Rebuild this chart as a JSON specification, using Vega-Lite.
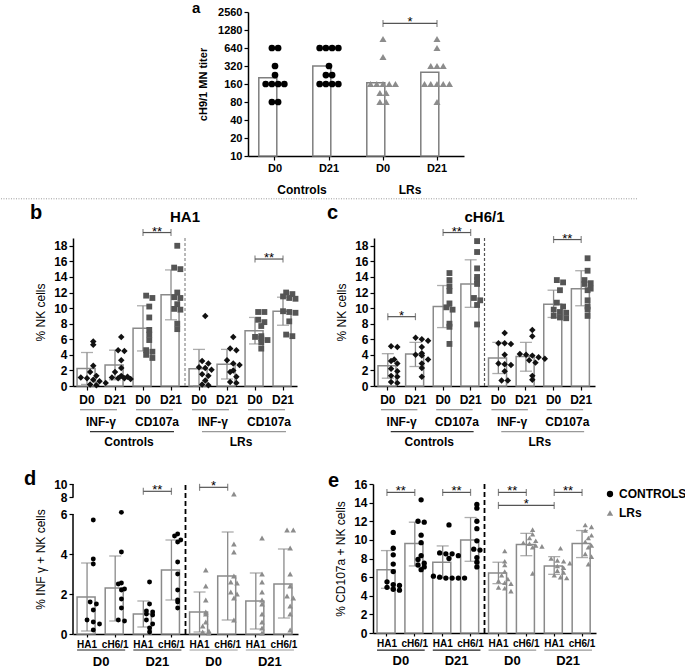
{
"$schema":"https://vega.github.io/schema/vega-lite/v6.json",
"padding":{"left":0,"top":0,"right":0,"bottom":0},
"spacing":0,
"resolve":{"scale":{"color":"independent","shape":"independent","stroke":"independent"},"legend":{"color":"independent","shape":"independent","stroke":"independent"}},
"config":{"view":{"stroke":null},"font":"Liberation Sans",
 "axis":{"grid":false,"labelOverlap":false,"domainColor":"#000","domainWidth":1.5,"tickColor":"#000","tickWidth":1.2,"labelColor":"#000","titleColor":"#000","labelFontWeight":"bold","labelFont":"Liberation Sans","titleFont":"Liberation Sans"},
 "text":{"font":"Liberation Sans","color":"#000"}},
"datasets":{
 "aBar":[{"k":"1|D0","v":204},{"k":"2|D21","v":320},{"k":"3|D0","v":168},{"k":"4|D21","v":252}],
 "aPts":[{"k":"1|D0","v":640},{"k":"1|D0","v":640},{"k":"1|D0","v":320},{"k":"1|D0","v":226},{"k":"1|D0","v":160},{"k":"1|D0","v":160},{"k":"1|D0","v":160},{"k":"1|D0","v":160},{"k":"1|D0","v":80},{"k":"1|D0","v":80},
  {"k":"2|D21","v":640},{"k":"2|D21","v":640},{"k":"2|D21","v":640},{"k":"2|D21","v":640},{"k":"2|D21","v":320},{"k":"2|D21","v":226},{"k":"2|D21","v":226},{"k":"2|D21","v":160},{"k":"2|D21","v":160},{"k":"2|D21","v":160},{"k":"2|D21","v":160},
  {"k":"3|D0","v":905},{"k":"3|D0","v":453},{"k":"3|D0","v":160},{"k":"3|D0","v":160},{"k":"3|D0","v":160},{"k":"3|D0","v":160},{"k":"3|D0","v":160},{"k":"3|D0","v":113},{"k":"3|D0","v":113},{"k":"3|D0","v":80},{"k":"3|D0","v":80},
  {"k":"4|D21","v":905},{"k":"4|D21","v":640},{"k":"4|D21","v":320},{"k":"4|D21","v":320},{"k":"4|D21","v":320},{"k":"4|D21","v":160},{"k":"4|D21","v":160},{"k":"4|D21","v":160},{"k":"4|D21","v":160},{"k":"4|D21","v":160},{"k":"4|D21","v":80}],
 "aBr":[{"f":"3|D0","t":"4|D21","y":1650,"s":"*"}],
 "bBar":[{"k":"1|D0","m":2.25,"lo":0.2,"hi":4.3},{"k":"2|D21","m":2.7,"lo":0.8,"hi":4.6},{"k":"3|D0","m":7.4,"lo":4.5,"hi":10.3},{"k":"4|D21","m":11.7,"lo":8.5,"hi":14.9},{"k":"5|D0","m":2.2,"lo":0,"hi":4.7},{"k":"6|D21","m":2.8,"lo":0.9,"hi":4.7},{"k":"7|D0","m":7.1,"lo":5.4,"hi":8.8},{"k":"8|D21","m":9.6,"lo":7.8,"hi":11.4}],
 "bPts":[{"k":"1|D0","v":5.7},{"k":"1|D0","v":5.3},{"k":"1|D0","v":2.6},{"k":"1|D0","v":1.8},{"k":"1|D0","v":1.3},{"k":"1|D0","v":1.1},{"k":"1|D0","v":1.0},{"k":"1|D0","v":0.8},{"k":"1|D0","v":0.6},{"k":"1|D0","v":0.4},{"k":"1|D0","v":0.2},{"k":"1|D0","v":0.1},
  {"k":"2|D21","v":6.3},{"k":"2|D21","v":4.6},{"k":"2|D21","v":4.5},{"k":"2|D21","v":3.3},{"k":"2|D21","v":2.3},{"k":"2|D21","v":1.8},{"k":"2|D21","v":1.3},{"k":"2|D21","v":1.2},{"k":"2|D21","v":1.1},{"k":"2|D21","v":1.0},{"k":"2|D21","v":1.0},{"k":"2|D21","v":0.9},
  {"k":"3|D0","v":11.6},{"k":"3|D0","v":11.3},{"k":"3|D0","v":10.2},{"k":"3|D0","v":8.8},{"k":"3|D0","v":7.2},{"k":"3|D0","v":6.6},{"k":"3|D0","v":5.9},{"k":"3|D0","v":4.6},{"k":"3|D0","v":4.4},{"k":"3|D0","v":4.0},{"k":"3|D0","v":3.6},
  {"k":"4|D21","v":18.0},{"k":"4|D21","v":15.2},{"k":"4|D21","v":15.0},{"k":"4|D21","v":12.0},{"k":"4|D21","v":11.4},{"k":"4|D21","v":11.3},{"k":"4|D21","v":10.5},{"k":"4|D21","v":9.9},{"k":"4|D21","v":9.8},{"k":"4|D21","v":8.0},{"k":"4|D21","v":7.3},
  {"k":"5|D0","v":9.0},{"k":"5|D0","v":3.2},{"k":"5|D0","v":2.9},{"k":"5|D0","v":2.4},{"k":"5|D0","v":2.3},{"k":"5|D0","v":2.1},{"k":"5|D0","v":1.5},{"k":"5|D0","v":1.3},{"k":"5|D0","v":0.7},{"k":"5|D0","v":0.2},{"k":"5|D0","v":0.1},
  {"k":"6|D21","v":6.3},{"k":"6|D21","v":4.8},{"k":"6|D21","v":4.6},{"k":"6|D21","v":3.3},{"k":"6|D21","v":2.9},{"k":"6|D21","v":2.7},{"k":"6|D21","v":2.0},{"k":"6|D21","v":1.8},{"k":"6|D21","v":1.2},{"k":"6|D21","v":0.5},{"k":"6|D21","v":0.4},
  {"k":"7|D0","v":9.5},{"k":"7|D0","v":9.5},{"k":"7|D0","v":8.5},{"k":"7|D0","v":8.2},{"k":"7|D0","v":7.7},{"k":"7|D0","v":6.4},{"k":"7|D0","v":6.3},{"k":"7|D0","v":6.1},{"k":"7|D0","v":5.9},{"k":"7|D0","v":5.6},{"k":"7|D0","v":4.8},
  {"k":"8|D21","v":12.0},{"k":"8|D21","v":11.8},{"k":"8|D21","v":11.5},{"k":"8|D21","v":11.3},{"k":"8|D21","v":11.2},{"k":"8|D21","v":9.6},{"k":"8|D21","v":9.5},{"k":"8|D21","v":9.4},{"k":"8|D21","v":8.3},{"k":"8|D21","v":6.6},{"k":"8|D21","v":6.4}],
 "bBr":[{"f":"3|D0","t":"4|D21","y":19.7,"s":"**"},{"f":"7|D0","t":"8|D21","y":16.3,"s":"**"}],
 "cBar":[{"k":"1|D0","m":2.6,"lo":1.0,"hi":4.15},{"k":"2|D21","m":4.1,"lo":2.5,"hi":5.6},{"k":"3|D0","m":10.2,"lo":7.5,"hi":12.9},{"k":"4|D21","m":13.1,"lo":10.1,"hi":16.2},{"k":"5|D0","m":3.6,"lo":1.6,"hi":5.6},{"k":"6|D21","m":3.8,"lo":1.9,"hi":5.6},{"k":"7|D0","m":10.5,"lo":8.8,"hi":12.3},{"k":"8|D21","m":12.5,"lo":10.3,"hi":14.8}],
 "cPts":[{"k":"1|D0","v":5.1},{"k":"1|D0","v":5.0},{"k":"1|D0","v":3.4},{"k":"1|D0","v":3.2},{"k":"1|D0","v":2.9},{"k":"1|D0","v":2.2},{"k":"1|D0","v":1.9},{"k":"1|D0","v":1.3},{"k":"1|D0","v":1.2},{"k":"1|D0","v":0.5},{"k":"1|D0","v":0.4},
  {"k":"2|D21","v":6.2},{"k":"2|D21","v":6.0},{"k":"2|D21","v":5.8},{"k":"2|D21","v":5.0},{"k":"2|D21","v":4.2},{"k":"2|D21","v":4.0},{"k":"2|D21","v":3.9},{"k":"2|D21","v":3.4},{"k":"2|D21","v":2.9},{"k":"2|D21","v":2.3},{"k":"2|D21","v":1.2},
  {"k":"3|D0","v":14.5},{"k":"3|D0","v":13.6},{"k":"3|D0","v":12.8},{"k":"3|D0","v":12.2},{"k":"3|D0","v":10.6},{"k":"3|D0","v":10.1},{"k":"3|D0","v":9.8},{"k":"3|D0","v":8.0},{"k":"3|D0","v":7.6},{"k":"3|D0","v":5.4},
  {"k":"4|D21","v":18.6},{"k":"4|D21","v":17.2},{"k":"4|D21","v":15.1},{"k":"4|D21","v":14.0},{"k":"4|D21","v":13.6},{"k":"4|D21","v":13.1},{"k":"4|D21","v":11.3},{"k":"4|D21","v":11.0},{"k":"4|D21","v":10.4},{"k":"4|D21","v":7.9},
  {"k":"5|D0","v":6.8},{"k":"5|D0","v":5.5},{"k":"5|D0","v":5.5},{"k":"5|D0","v":5.4},{"k":"5|D0","v":4.0},{"k":"5|D0","v":2.9},{"k":"5|D0","v":2.8},{"k":"5|D0","v":2.7},{"k":"5|D0","v":1.9},{"k":"5|D0","v":0.7},{"k":"5|D0","v":0.7},
  {"k":"6|D21","v":7.2},{"k":"6|D21","v":6.4},{"k":"6|D21","v":4.1},{"k":"6|D21","v":4.0},{"k":"6|D21","v":3.9},{"k":"6|D21","v":3.7},{"k":"6|D21","v":3.5},{"k":"6|D21","v":3.3},{"k":"6|D21","v":3.0},{"k":"6|D21","v":1.3},{"k":"6|D21","v":0.8},
  {"k":"7|D0","v":13.6},{"k":"7|D0","v":13.3},{"k":"7|D0","v":12.3},{"k":"7|D0","v":10.7},{"k":"7|D0","v":10.2},{"k":"7|D0","v":9.8},{"k":"7|D0","v":9.5},{"k":"7|D0","v":9.4},{"k":"7|D0","v":9.0},{"k":"7|D0","v":8.8},{"k":"7|D0","v":8.7},
  {"k":"8|D21","v":16.4},{"k":"8|D21","v":14.8},{"k":"8|D21","v":13.6},{"k":"8|D21","v":13.2},{"k":"8|D21","v":13.1},{"k":"8|D21","v":12.5},{"k":"8|D21","v":12.3},{"k":"8|D21","v":11.0},{"k":"8|D21","v":10.2},{"k":"8|D21","v":9.8},{"k":"8|D21","v":9.0}],
 "cBr":[{"f":"1|D0","t":"2|D21","y":8.9,"s":"*"},{"f":"3|D0","t":"4|D21","y":19.7,"s":"**"},{"f":"7|D0","t":"8|D21","y":18.8,"s":"**"}],
 "lab2":[{"f":"1|D0","t":"2|D21","s":"INF-γ"},{"f":"3|D0","t":"4|D21","s":"CD107a"},{"f":"5|D0","t":"6|D21","s":"INF-γ"},{"f":"7|D0","t":"8|D21","s":"CD107a"}],
 "lab3":[{"f":"1|D0","t":"4|D21","m":"2|D21","s":"Controls","g":"C"},{"f":"5|D0","t":"8|D21","m":"6|D21","s":"LRs","g":"L"}],
 "dBar":[{"k":"1|HA1","m":1.85,"lo":0.15,"hi":3.55},{"k":"2|cH6/1","m":2.3,"lo":0.65,"hi":3.9},{"k":"3|HA1","m":1.0,"lo":0.35,"hi":1.65},{"k":"4|cH6/1","m":3.2,"lo":1.7,"hi":4.7},{"k":"5|HA1","m":1.1,"lo":0.1,"hi":2.1},{"k":"6|cH6/1","m":2.9,"lo":0.7,"hi":5.1},{"k":"7|HA1","m":1.65,"lo":0.25,"hi":3.05},{"k":"8|cH6/1","m":2.5,"lo":0.8,"hi":4.25}],
 "dPts":[{"k":"1|HA1","v":5.7},{"k":"1|HA1","v":3.75},{"k":"1|HA1","v":3.5},{"k":"1|HA1","v":1.6},{"k":"1|HA1","v":1.5},{"k":"1|HA1","v":1.2},{"k":"1|HA1","v":0.7},{"k":"1|HA1","v":0.6},{"k":"1|HA1","v":0.5},{"k":"1|HA1","v":0.2},
  {"k":"2|cH6/1","v":6.2},{"k":"2|cH6/1","v":4.1},{"k":"2|cH6/1","v":2.55},{"k":"2|cH6/1","v":2.5},{"k":"2|cH6/1","v":2.25},{"k":"2|cH6/1","v":2.2},{"k":"2|cH6/1","v":1.75},{"k":"2|cH6/1","v":1.3},{"k":"2|cH6/1","v":0.7},{"k":"2|cH6/1","v":0.65},
  {"k":"3|HA1","v":2.6},{"k":"3|HA1","v":1.5},{"k":"3|HA1","v":1.15},{"k":"3|HA1","v":1.1},{"k":"3|HA1","v":1.0},{"k":"3|HA1","v":0.95},{"k":"3|HA1","v":0.7},{"k":"3|HA1","v":0.5},{"k":"3|HA1","v":0.3},{"k":"3|HA1","v":0.1},
  {"k":"4|cH6/1","v":5.0},{"k":"4|cH6/1","v":4.9},{"k":"4|cH6/1","v":4.7},{"k":"4|cH6/1","v":4.6},{"k":"4|cH6/1","v":3.6},{"k":"4|cH6/1","v":3.0},{"k":"4|cH6/1","v":2.2},{"k":"4|cH6/1","v":1.7},{"k":"4|cH6/1","v":1.6},{"k":"4|cH6/1","v":1.3},
  {"k":"5|HA1","v":3.2},{"k":"5|HA1","v":2.4},{"k":"5|HA1","v":1.7},{"k":"5|HA1","v":1.1},{"k":"5|HA1","v":1.0},{"k":"5|HA1","v":0.6},{"k":"5|HA1","v":0.4},{"k":"5|HA1","v":0.15},{"k":"5|HA1","v":0.1},{"k":"5|HA1","v":0.05},
  {"k":"6|cH6/1","v":8.5},{"k":"6|cH6/1","v":4.5},{"k":"6|cH6/1","v":4.1},{"k":"6|cH6/1","v":2.9},{"k":"6|cH6/1","v":2.6},{"k":"6|cH6/1","v":2.55},{"k":"6|cH6/1","v":2.1},{"k":"6|cH6/1","v":2.0},{"k":"6|cH6/1","v":1.8},{"k":"6|cH6/1","v":0.7},
  {"k":"7|HA1","v":4.8},{"k":"7|HA1","v":3.0},{"k":"7|HA1","v":2.6},{"k":"7|HA1","v":2.1},{"k":"7|HA1","v":1.7},{"k":"7|HA1","v":1.5},{"k":"7|HA1","v":1.0},{"k":"7|HA1","v":0.6},{"k":"7|HA1","v":0.3},{"k":"7|HA1","v":0.05},
  {"k":"8|cH6/1","v":5.2},{"k":"8|cH6/1","v":5.2},{"k":"8|cH6/1","v":4.3},{"k":"8|cH6/1","v":3.0},{"k":"8|cH6/1","v":2.4},{"k":"8|cH6/1","v":1.9},{"k":"8|cH6/1","v":1.8},{"k":"8|cH6/1","v":1.4},{"k":"8|cH6/1","v":1.0},{"k":"8|cH6/1","v":0.2}],
 "dBr":[{"f":"3|HA1","t":"4|cH6/1","y":8.9,"s":"**"},{"f":"5|HA1","t":"6|cH6/1","y":9.5,"s":"*"}],
 "eBar":[{"k":"1|HA1","m":6.8,"lo":4.8,"hi":8.85},{"k":"2|cH6/1","m":9.6,"lo":7.2,"hi":11.9},{"k":"3|HA1","m":7.6,"lo":5.9,"hi":9.35},{"k":"4|cH6/1","m":10.0,"lo":7.7,"hi":12.4},{"k":"5|HA1","m":6.45,"lo":5.3,"hi":7.6},{"k":"6|cH6/1","m":9.5,"lo":8.3,"hi":10.7},{"k":"7|HA1","m":7.2,"lo":6.3,"hi":8.2},{"k":"8|cH6/1","m":9.6,"lo":8.1,"hi":11.0}],
 "ePts":[{"k":"1|HA1","v":10.8},{"k":"1|HA1","v":9.1},{"k":"1|HA1","v":8.4},{"k":"1|HA1","v":7.4},{"k":"1|HA1","v":6.6},{"k":"1|HA1","v":5.5},{"k":"1|HA1","v":5.2},{"k":"1|HA1","v":5.1},{"k":"1|HA1","v":4.9},{"k":"1|HA1","v":4.7},{"k":"1|HA1","v":4.6},
  {"k":"2|cH6/1","v":14.3},{"k":"2|cH6/1","v":12.0},{"k":"2|cH6/1","v":11.9},{"k":"2|cH6/1","v":10.5},{"k":"2|cH6/1","v":9.7},{"k":"2|cH6/1","v":8.3},{"k":"2|cH6/1","v":7.9},{"k":"2|cH6/1","v":7.5},{"k":"2|cH6/1","v":7.3},{"k":"2|cH6/1","v":7.1},{"k":"2|cH6/1","v":6.8},
  {"k":"3|HA1","v":11.6},{"k":"3|HA1","v":8.6},{"k":"3|HA1","v":8.5},{"k":"3|HA1","v":8.5},{"k":"3|HA1","v":8.3},{"k":"3|HA1","v":8.0},{"k":"3|HA1","v":6.1},{"k":"3|HA1","v":6.0},{"k":"3|HA1","v":5.9},{"k":"3|HA1","v":5.9},{"k":"3|HA1","v":5.9},{"k":"3|HA1","v":5.9},
  {"k":"4|cH6/1","v":13.8},{"k":"4|cH6/1","v":13.4},{"k":"4|cH6/1","v":12.0},{"k":"4|cH6/1","v":11.2},{"k":"4|cH6/1","v":9.9},{"k":"4|cH6/1","v":9.0},{"k":"4|cH6/1","v":8.9},{"k":"4|cH6/1","v":8.1},{"k":"4|cH6/1","v":7.6},{"k":"4|cH6/1","v":7.1},
  {"k":"5|HA1","v":8.8},{"k":"5|HA1","v":7.7},{"k":"5|HA1","v":7.3},{"k":"5|HA1","v":6.6},{"k":"5|HA1","v":6.2},{"k":"5|HA1","v":5.8},{"k":"5|HA1","v":5.6},{"k":"5|HA1","v":5.4},{"k":"5|HA1","v":5.3},{"k":"5|HA1","v":4.9},{"k":"5|HA1","v":4.8},{"k":"5|HA1","v":4.5},
  {"k":"6|cH6/1","v":11.1},{"k":"6|cH6/1","v":10.6},{"k":"6|cH6/1","v":10.2},{"k":"6|cH6/1","v":9.9},{"k":"6|cH6/1","v":9.7},{"k":"6|cH6/1","v":9.6},{"k":"6|cH6/1","v":9.4},{"k":"6|cH6/1","v":9.3},{"k":"6|cH6/1","v":9.2},{"k":"6|cH6/1","v":6.4},
  {"k":"7|HA1","v":9.1},{"k":"7|HA1","v":8.0},{"k":"7|HA1","v":7.8},{"k":"7|HA1","v":7.7},{"k":"7|HA1","v":7.5},{"k":"7|HA1","v":7.2},{"k":"7|HA1","v":7.0},{"k":"7|HA1","v":6.7},{"k":"7|HA1","v":6.5},{"k":"7|HA1","v":6.2},{"k":"7|HA1","v":6.0},{"k":"7|HA1","v":5.9},
  {"k":"8|cH6/1","v":11.6},{"k":"8|cH6/1","v":11.4},{"k":"8|cH6/1","v":11.0},{"k":"8|cH6/1","v":10.5},{"k":"8|cH6/1","v":10.2},{"k":"8|cH6/1","v":9.8},{"k":"8|cH6/1","v":9.4},{"k":"8|cH6/1","v":9.2},{"k":"8|cH6/1","v":8.5},{"k":"8|cH6/1","v":8.2},{"k":"8|cH6/1","v":7.4}],
 "eBr":[{"f":"1|HA1","t":"2|cH6/1","y":15.1,"s":"**"},{"f":"3|HA1","t":"4|cH6/1","y":15.1,"s":"**"},{"f":"5|HA1","t":"6|cH6/1","y":15.1,"s":"**"},{"f":"7|HA1","t":"8|cH6/1","y":15.1,"s":"**"}],
 "eBr2":[{"f":"5|HA1","t":"7|HA1","m":"6|cH6/1","y":13.7,"s":"*"}],
 "labDE":[{"f":"1|HA1","t":"2|cH6/1","s":"D0","g":"C"},{"f":"3|HA1","t":"4|cH6/1","s":"D21","g":"C"},{"f":"5|HA1","t":"6|cH6/1","s":"D0","g":"L"},{"f":"7|HA1","t":"8|cH6/1","s":"D21","g":"L"}]
},
"vconcat":[
 {"hconcat":[
   {"width":175,"height":1,"data":{"values":[]},"mark":"point"},
   {"width":216,"height":144,"layer":[
    {"data":{"name":"aBar"},"mark":{"type":"bar","fill":"#fff","stroke":"#7f7f7f","strokeWidth":1.5},
     "encoding":{"x":{"field":"k","type":"nominal","scale":{"domain":["1|D0","2|D21","3|D0","4|D21"],"paddingInner":0.4,"paddingOuter":0.2},"axis":{"title":null,"labelExpr":"split(datum.value,'|')[1]","labelAngle":0,"labelFontSize":11,"tickSize":4,"labelPadding":2}},
      "y":{"field":"v","type":"quantitative","scale":{"type":"log","domain":[10,2560],"nice":false,"zero":false},"axis":{"title":"cH9/1 MN titer","values":[10,20,40,80,160,320,640,1280,2560],"tickCount":20,"format":"d","labelOverlap":false,"labelFontSize":11,"titleFontSize":11,"titleFontWeight":"bold","titlePadding":9,"tickSize":4,"labelPadding":2}},
      "y2":{"datum":10}}},
    {"data":{"name":"aPts"},"transform":[{"filter":"substring(datum.k,0,1)<'3'"},{"window":[{"op":"row_number","as":"r"},{"op":"count","as":"n"}],"groupby":["k","v"],"frame":[null,null]},{"calculate":"datum.r-(datum.n+1)/2","as":"o"}],
     "mark":{"type":"point","shape":"circle","filled":true,"color":"#000","size":45,"opacity":1},
     "encoding":{"x":{"field":"k","type":"nominal","scale":{"domain":["1|D0","2|D21","3|D0","4|D21"],"paddingInner":0.4,"paddingOuter":0.2}},"xOffset":{"field":"o","type":"quantitative","scale":{"domain":[-2.6,2.6],"nice":false,"zero":false}},"y":{"field":"v","type":"quantitative","scale":{"type":"log","domain":[10,2560],"nice":false,"zero":false}}}},
    {"data":{"name":"aPts"},"transform":[{"filter":"substring(datum.k,0,1)>='3'"},{"window":[{"op":"row_number","as":"r"},{"op":"count","as":"n"}],"groupby":["k","v"],"frame":[null,null]},{"calculate":"datum.r-(datum.n+1)/2","as":"o"}],
     "mark":{"type":"point","shape":"triangle-up","filled":true,"color":"#8c8c8c","size":50,"opacity":1},
     "encoding":{"x":{"field":"k","type":"nominal","scale":{"domain":["1|D0","2|D21","3|D0","4|D21"],"paddingInner":0.4,"paddingOuter":0.2}},"xOffset":{"field":"o","type":"quantitative","scale":{"domain":[-2.6,2.6],"nice":false,"zero":false}},"y":{"field":"v","type":"quantitative","scale":{"type":"log","domain":[10,2560],"nice":false,"zero":false}}}},
    {"data":{"name":"aBr"},"mark":{"type":"rule","color":"#555","strokeWidth":1.2},"encoding":{"x":{"field":"f","type":"nominal","scale":{"domain":["1|D0","2|D21","3|D0","4|D21"],"paddingInner":0.4,"paddingOuter":0.2}},"x2":{"field":"t"},"y":{"field":"y","type":"quantitative","scale":{"type":"log","domain":[10,2560],"nice":false,"zero":false}}}},
    {"data":{"name":"aBr"},"mark":{"type":"tick","orient":"vertical","size":7,"thickness":1.2,"color":"#555"},"encoding":{"x":{"field":"f","type":"nominal","scale":{"domain":["1|D0","2|D21","3|D0","4|D21"],"paddingInner":0.4,"paddingOuter":0.2}},"y":{"field":"y","type":"quantitative","scale":{"type":"log","domain":[10,2560],"nice":false,"zero":false}}}},
    {"data":{"name":"aBr"},"mark":{"type":"tick","orient":"vertical","size":7,"thickness":1.2,"color":"#555"},"encoding":{"x":{"field":"t","type":"nominal","scale":{"domain":["1|D0","2|D21","3|D0","4|D21"],"paddingInner":0.4,"paddingOuter":0.2}},"y":{"field":"y","type":"quantitative","scale":{"type":"log","domain":[10,2560],"nice":false,"zero":false}}}},
    {"data":{"name":"aBr"},"mark":{"type":"text","fontSize":13,"baseline":"alphabetic","dy":3},"encoding":{"x":{"field":"f","type":"nominal","bandPosition":1.333,"scale":{"domain":["1|D0","2|D21","3|D0","4|D21"],"paddingInner":0.4,"paddingOuter":0.2}},"y":{"field":"y","type":"quantitative","scale":{"type":"log","domain":[10,2560],"nice":false,"zero":false}},"text":{"field":"s"}}},
    {"data":{"values":[{"k":"1|D0","s":"Controls"},{"k":"3|D0","s":"LRs"}]},"mark":{"type":"text","fontSize":12,"fontWeight":"bold","baseline":"middle"},"encoding":{"x":{"field":"k","type":"nominal","bandPosition":1.333,"scale":{"domain":["1|D0","2|D21","3|D0","4|D21"],"paddingInner":0.4,"paddingOuter":0.2}},"y":{"datum":2.7,"type":"quantitative","scale":{"type":"log","domain":[10,2560],"nice":false,"zero":false}},"text":{"field":"s"}}},
    {"data":{"values":[{}]},"mark":{"type":"text","fontSize":15,"fontWeight":"bold","align":"left","baseline":"middle","dx":-56},"encoding":{"x":{"datum":"1|D0","type":"nominal","bandPosition":-0.333,"scale":{"domain":["1|D0","2|D21","3|D0","4|D21"],"paddingInner":0.4,"paddingOuter":0.2}},"y":{"datum":2990,"type":"quantitative","scale":{"type":"log","domain":[10,2560],"nice":false,"zero":false}},"text":{"value":"a"}}}
   ]}
 ],"spacing":0,"bounds":"flush"},
 {"width":564,"height":6,"data":{"values":[{}]},"mark":{"type":"rule","color":"#999","strokeDash":[1,1.5],"strokeWidth":1},"encoding":{"x":{"datum":-0.1277,"type":"quantitative","scale":{"domain":[0,1],"nice":false,"zero":false},"axis":null},"x2":{"datum":1},"y":{"datum":0.7,"type":"quantitative","scale":{"domain":[0,1]},"axis":null}}},
 {"hconcat":[
   {"width":224,"height":148,"layer":[
    {"data":{"name":"bBar"},"mark":{"type":"bar","fill":"#fff","stroke":"#8a8a8a","strokeWidth":1.5},
     "encoding":{"x":{"field":"k","type":"nominal","scale":{"domain":["1|D0","2|D21","3|D0","4|D21","5|D0","6|D21","7|D0","8|D21"],"paddingInner":0.29,"paddingOuter":0.145},"axis":{"title":null,"labelExpr":"split(datum.value,'|')[1]","labelAngle":0,"labelFontSize":12,"tickSize":4,"labelPadding":4}},
      "y":{"field":"m","type":"quantitative","scale":{"domain":[0,19],"nice":false,"zero":false},"axis":{"title":"% NK cells","values":[0,2,4,6,8,10,12,14,16,18],"tickCount":20,"format":"d","labelOverlap":false,"labelFontSize":12,"titleFontSize":12,"titleFontWeight":"normal","titlePadding":6,"tickSize":4}}}},
    {"data":{"name":"bBar"},"mark":{"type":"rule","color":"#8a8a8a","strokeWidth":1.3},"encoding":{"x":{"field":"k","type":"nominal","scale":{"domain":["1|D0","2|D21","3|D0","4|D21","5|D0","6|D21","7|D0","8|D21"],"paddingInner":0.29,"paddingOuter":0.145}},"y":{"field":"lo","type":"quantitative","scale":{"domain":[0,19],"nice":false,"zero":false}},"y2":{"field":"hi"}}},
    {"data":{"name":"bBar"},"mark":{"type":"tick","orient":"horizontal","size":12,"thickness":1.3,"color":"#8a8a8a"},"encoding":{"x":{"field":"k","type":"nominal","scale":{"domain":["1|D0","2|D21","3|D0","4|D21","5|D0","6|D21","7|D0","8|D21"],"paddingInner":0.29,"paddingOuter":0.145}},"y":{"field":"lo","type":"quantitative","scale":{"domain":[0,19],"nice":false,"zero":false}}}},
    {"data":{"name":"bBar"},"mark":{"type":"tick","orient":"horizontal","size":12,"thickness":1.3,"color":"#8a8a8a"},"encoding":{"x":{"field":"k","type":"nominal","scale":{"domain":["1|D0","2|D21","3|D0","4|D21","5|D0","6|D21","7|D0","8|D21"],"paddingInner":0.29,"paddingOuter":0.145}},"y":{"field":"hi","type":"quantitative","scale":{"domain":[0,19],"nice":false,"zero":false}}}},
    {"data":{"name":"bPts"},"transform":[{"filter":"indexof('1256',substring(datum.k,0,1))>=0"},{"calculate":"round(datum.v/0.75)","as":"b"},{"window":[{"op":"row_number","as":"r"},{"op":"count","as":"n"}],"groupby":["k","b"],"frame":[null,null]},{"calculate":"datum.r-(datum.n+1)/2","as":"o"}],
     "mark":{"type":"point","shape":"diamond","filled":true,"color":"#111","size":42,"opacity":1},
     "encoding":{"x":{"field":"k","type":"nominal","scale":{"domain":["1|D0","2|D21","3|D0","4|D21","5|D0","6|D21","7|D0","8|D21"],"paddingInner":0.29,"paddingOuter":0.145}},"xOffset":{"field":"o","type":"quantitative","scale":{"domain":[-1.45,1.45],"nice":false,"zero":false}},"y":{"field":"v","type":"quantitative","scale":{"domain":[0,19],"nice":false,"zero":false}}}},
    {"data":{"name":"bPts"},"transform":[{"filter":"indexof('3478',substring(datum.k,0,1))>=0"},{"calculate":"round(datum.v/0.75)","as":"b"},{"window":[{"op":"row_number","as":"r"},{"op":"count","as":"n"}],"groupby":["k","b"],"frame":[null,null]},{"calculate":"datum.r-(datum.n+1)/2","as":"o"}],
     "mark":{"type":"point","shape":"square","filled":true,"color":"#555","size":34,"opacity":1},
     "encoding":{"x":{"field":"k","type":"nominal","scale":{"domain":["1|D0","2|D21","3|D0","4|D21","5|D0","6|D21","7|D0","8|D21"],"paddingInner":0.29,"paddingOuter":0.145}},"xOffset":{"field":"o","type":"quantitative","scale":{"domain":[-1.45,1.45],"nice":false,"zero":false}},"y":{"field":"v","type":"quantitative","scale":{"domain":[0,19],"nice":false,"zero":false}}}},
    {"data":{"values":[{}]},"mark":{"type":"rule","strokeDash":[3,2],"color":"#8a8a8a","strokeWidth":1.2},"encoding":{"x":{"datum":"5|D0","type":"nominal","bandPosition":-0.204,"scale":{"domain":["1|D0","2|D21","3|D0","4|D21","5|D0","6|D21","7|D0","8|D21"],"paddingInner":0.29,"paddingOuter":0.145}},"y":{"datum":0,"type":"quantitative","scale":{"domain":[0,19],"nice":false,"zero":false}},"y2":{"datum":19}}},
    {"data":{"name":"bBr"},"mark":{"type":"rule","color":"#555","strokeWidth":1.2},"encoding":{"x":{"field":"f","type":"nominal","scale":{"domain":["1|D0","2|D21","3|D0","4|D21","5|D0","6|D21","7|D0","8|D21"],"paddingInner":0.29,"paddingOuter":0.145}},"x2":{"field":"t"},"y":{"field":"y","type":"quantitative","scale":{"domain":[0,19],"nice":false,"zero":false}}}},
    {"data":{"name":"bBr"},"mark":{"type":"tick","orient":"vertical","size":7,"thickness":1.2,"color":"#555"},"encoding":{"x":{"field":"f","type":"nominal","scale":{"domain":["1|D0","2|D21","3|D0","4|D21","5|D0","6|D21","7|D0","8|D21"],"paddingInner":0.29,"paddingOuter":0.145}},"y":{"field":"y","type":"quantitative","scale":{"domain":[0,19],"nice":false,"zero":false}}}},
    {"data":{"name":"bBr"},"mark":{"type":"tick","orient":"vertical","size":7,"thickness":1.2,"color":"#555"},"encoding":{"x":{"field":"t","type":"nominal","scale":{"domain":["1|D0","2|D21","3|D0","4|D21","5|D0","6|D21","7|D0","8|D21"],"paddingInner":0.29,"paddingOuter":0.145}},"y":{"field":"y","type":"quantitative","scale":{"domain":[0,19],"nice":false,"zero":false}}}},
    {"data":{"name":"bBr"},"mark":{"type":"text","fontSize":13,"baseline":"alphabetic","dy":3},"encoding":{"x":{"field":"f","type":"nominal","bandPosition":1.204,"scale":{"domain":["1|D0","2|D21","3|D0","4|D21","5|D0","6|D21","7|D0","8|D21"],"paddingInner":0.29,"paddingOuter":0.145}},"y":{"field":"y","type":"quantitative","scale":{"domain":[0,19],"nice":false,"zero":false}},"text":{"field":"s"}}},
    {"data":{"values":[{}]},"mark":{"type":"text","fontSize":15,"fontWeight":"bold","baseline":"middle"},"encoding":{"x":{"datum":"5|D0","type":"nominal","bandPosition":-0.204,"scale":{"domain":["1|D0","2|D21","3|D0","4|D21","5|D0","6|D21","7|D0","8|D21"],"paddingInner":0.29,"paddingOuter":0.145}},"y":{"datum":21.7,"type":"quantitative","scale":{"domain":[0,19],"nice":false,"zero":false}},"text":{"value":"HA1"}}},
    {"data":{"values":[{}]},"mark":{"type":"text","fontSize":20,"fontWeight":"bold","align":"left","baseline":"middle","dx":-43},"encoding":{"x":{"datum":"1|D0","type":"nominal","bandPosition":-0.204,"scale":{"domain":["1|D0","2|D21","3|D0","4|D21","5|D0","6|D21","7|D0","8|D21"],"paddingInner":0.29,"paddingOuter":0.145}},"y":{"datum":22.2,"type":"quantitative","scale":{"domain":[0,19],"nice":false,"zero":false}},"text":{"value":"b"}}},
    {"data":{"name":"lab2"},"mark":{"type":"rule","color":"#777","strokeWidth":1.2},"encoding":{"x":{"field":"f","type":"nominal","bandPosition":0.15,"scale":{"domain":["1|D0","2|D21","3|D0","4|D21","5|D0","6|D21","7|D0","8|D21"],"paddingInner":0.29,"paddingOuter":0.145}},"x2":{"field":"t","bandPosition":0.6},"y":{"datum":-3.05,"type":"quantitative","scale":{"domain":[0,19],"nice":false,"zero":false}}}},
    {"data":{"name":"lab2"},"mark":{"type":"text","fontSize":12,"fontWeight":"bold","baseline":"middle"},"encoding":{"x":{"field":"f","type":"nominal","bandPosition":1.204,"scale":{"domain":["1|D0","2|D21","3|D0","4|D21","5|D0","6|D21","7|D0","8|D21"],"paddingInner":0.29,"paddingOuter":0.145}},"y":{"datum":-4.6,"type":"quantitative","scale":{"domain":[0,19],"nice":false,"zero":false}},"text":{"field":"s"}}},
    {"data":{"name":"lab3"},"mark":{"type":"rule","strokeWidth":1.2},"encoding":{"x":{"field":"f","type":"nominal","bandPosition":0.65,"scale":{"domain":["1|D0","2|D21","3|D0","4|D21","5|D0","6|D21","7|D0","8|D21"],"paddingInner":0.29,"paddingOuter":0.145}},"x2":{"field":"t","bandPosition":0.65},"y":{"datum":-5.85,"type":"quantitative","scale":{"domain":[0,19],"nice":false,"zero":false}},"stroke":{"field":"g","type":"nominal","scale":{"domain":["C","L"],"range":["#333","#999"]},"legend":null}}},
    {"data":{"name":"lab3"},"mark":{"type":"text","fontSize":12,"fontWeight":"bold","baseline":"middle"},"encoding":{"x":{"field":"m","type":"nominal","bandPosition":1.204,"scale":{"domain":["1|D0","2|D21","3|D0","4|D21","5|D0","6|D21","7|D0","8|D21"],"paddingInner":0.29,"paddingOuter":0.145}},"y":{"datum":-7.2,"type":"quantitative","scale":{"domain":[0,19],"nice":false,"zero":false}},"text":{"field":"s"}}}
   ]},
   {"width":221,"height":148,"layer":[
    {"data":{"name":"cBar"},"mark":{"type":"bar","fill":"#fff","stroke":"#8a8a8a","strokeWidth":1.5},
     "encoding":{"x":{"field":"k","type":"nominal","scale":{"domain":["1|D0","2|D21","3|D0","4|D21","5|D0","6|D21","7|D0","8|D21"],"paddingInner":0.29,"paddingOuter":0.145},"axis":{"title":null,"labelExpr":"split(datum.value,'|')[1]","labelAngle":0,"labelFontSize":12,"tickSize":4,"labelPadding":4}},
      "y":{"field":"m","type":"quantitative","scale":{"domain":[0,19],"nice":false,"zero":false},"axis":{"title":"% NK cells","values":[0,2,4,6,8,10,12,14,16,18],"tickCount":20,"format":"d","labelOverlap":false,"labelFontSize":12,"titleFontSize":12,"titleFontWeight":"normal","titlePadding":6,"tickSize":4}}}},
    {"data":{"name":"cBar"},"mark":{"type":"rule","color":"#8a8a8a","strokeWidth":1.3},"encoding":{"x":{"field":"k","type":"nominal","scale":{"domain":["1|D0","2|D21","3|D0","4|D21","5|D0","6|D21","7|D0","8|D21"],"paddingInner":0.29,"paddingOuter":0.145}},"y":{"field":"lo","type":"quantitative","scale":{"domain":[0,19],"nice":false,"zero":false}},"y2":{"field":"hi"}}},
    {"data":{"name":"cBar"},"mark":{"type":"tick","orient":"horizontal","size":12,"thickness":1.3,"color":"#8a8a8a"},"encoding":{"x":{"field":"k","type":"nominal","scale":{"domain":["1|D0","2|D21","3|D0","4|D21","5|D0","6|D21","7|D0","8|D21"],"paddingInner":0.29,"paddingOuter":0.145}},"y":{"field":"lo","type":"quantitative","scale":{"domain":[0,19],"nice":false,"zero":false}}}},
    {"data":{"name":"cBar"},"mark":{"type":"tick","orient":"horizontal","size":12,"thickness":1.3,"color":"#8a8a8a"},"encoding":{"x":{"field":"k","type":"nominal","scale":{"domain":["1|D0","2|D21","3|D0","4|D21","5|D0","6|D21","7|D0","8|D21"],"paddingInner":0.29,"paddingOuter":0.145}},"y":{"field":"hi","type":"quantitative","scale":{"domain":[0,19],"nice":false,"zero":false}}}},
    {"data":{"name":"cPts"},"transform":[{"filter":"indexof('1256',substring(datum.k,0,1))>=0"},{"calculate":"round(datum.v/0.75)","as":"b"},{"window":[{"op":"row_number","as":"r"},{"op":"count","as":"n"}],"groupby":["k","b"],"frame":[null,null]},{"calculate":"datum.r-(datum.n+1)/2","as":"o"}],
     "mark":{"type":"point","shape":"diamond","filled":true,"color":"#111","size":42,"opacity":1},
     "encoding":{"x":{"field":"k","type":"nominal","scale":{"domain":["1|D0","2|D21","3|D0","4|D21","5|D0","6|D21","7|D0","8|D21"],"paddingInner":0.29,"paddingOuter":0.145}},"xOffset":{"field":"o","type":"quantitative","scale":{"domain":[-1.45,1.45],"nice":false,"zero":false}},"y":{"field":"v","type":"quantitative","scale":{"domain":[0,19],"nice":false,"zero":false}}}},
    {"data":{"name":"cPts"},"transform":[{"filter":"indexof('3478',substring(datum.k,0,1))>=0"},{"calculate":"round(datum.v/0.75)","as":"b"},{"window":[{"op":"row_number","as":"r"},{"op":"count","as":"n"}],"groupby":["k","b"],"frame":[null,null]},{"calculate":"datum.r-(datum.n+1)/2","as":"o"}],
     "mark":{"type":"point","shape":"square","filled":true,"color":"#555","size":34,"opacity":1},
     "encoding":{"x":{"field":"k","type":"nominal","scale":{"domain":["1|D0","2|D21","3|D0","4|D21","5|D0","6|D21","7|D0","8|D21"],"paddingInner":0.29,"paddingOuter":0.145}},"xOffset":{"field":"o","type":"quantitative","scale":{"domain":[-1.45,1.45],"nice":false,"zero":false}},"y":{"field":"v","type":"quantitative","scale":{"domain":[0,19],"nice":false,"zero":false}}}},
    {"data":{"values":[{}]},"mark":{"type":"rule","strokeDash":[3,2],"color":"#555","strokeWidth":1.2},"encoding":{"x":{"datum":"5|D0","type":"nominal","bandPosition":-0.204,"scale":{"domain":["1|D0","2|D21","3|D0","4|D21","5|D0","6|D21","7|D0","8|D21"],"paddingInner":0.29,"paddingOuter":0.145}},"y":{"datum":0,"type":"quantitative","scale":{"domain":[0,19],"nice":false,"zero":false}},"y2":{"datum":19}}},
    {"data":{"name":"cBr"},"mark":{"type":"rule","color":"#555","strokeWidth":1.2},"encoding":{"x":{"field":"f","type":"nominal","scale":{"domain":["1|D0","2|D21","3|D0","4|D21","5|D0","6|D21","7|D0","8|D21"],"paddingInner":0.29,"paddingOuter":0.145}},"x2":{"field":"t"},"y":{"field":"y","type":"quantitative","scale":{"domain":[0,19],"nice":false,"zero":false}}}},
    {"data":{"name":"cBr"},"mark":{"type":"tick","orient":"vertical","size":7,"thickness":1.2,"color":"#555"},"encoding":{"x":{"field":"f","type":"nominal","scale":{"domain":["1|D0","2|D21","3|D0","4|D21","5|D0","6|D21","7|D0","8|D21"],"paddingInner":0.29,"paddingOuter":0.145}},"y":{"field":"y","type":"quantitative","scale":{"domain":[0,19],"nice":false,"zero":false}}}},
    {"data":{"name":"cBr"},"mark":{"type":"tick","orient":"vertical","size":7,"thickness":1.2,"color":"#555"},"encoding":{"x":{"field":"t","type":"nominal","scale":{"domain":["1|D0","2|D21","3|D0","4|D21","5|D0","6|D21","7|D0","8|D21"],"paddingInner":0.29,"paddingOuter":0.145}},"y":{"field":"y","type":"quantitative","scale":{"domain":[0,19],"nice":false,"zero":false}}}},
    {"data":{"name":"cBr"},"mark":{"type":"text","fontSize":13,"baseline":"alphabetic","dy":3},"encoding":{"x":{"field":"f","type":"nominal","bandPosition":1.204,"scale":{"domain":["1|D0","2|D21","3|D0","4|D21","5|D0","6|D21","7|D0","8|D21"],"paddingInner":0.29,"paddingOuter":0.145}},"y":{"field":"y","type":"quantitative","scale":{"domain":[0,19],"nice":false,"zero":false}},"text":{"field":"s"}}},
    {"data":{"values":[{}]},"mark":{"type":"text","fontSize":15,"fontWeight":"bold","baseline":"middle"},"encoding":{"x":{"datum":"5|D0","type":"nominal","bandPosition":-0.204,"scale":{"domain":["1|D0","2|D21","3|D0","4|D21","5|D0","6|D21","7|D0","8|D21"],"paddingInner":0.29,"paddingOuter":0.145}},"y":{"datum":21.7,"type":"quantitative","scale":{"domain":[0,19],"nice":false,"zero":false}},"text":{"value":"cH6/1"}}},
    {"data":{"values":[{}]},"mark":{"type":"text","fontSize":20,"fontWeight":"bold","align":"left","baseline":"middle","dx":-47},"encoding":{"x":{"datum":"1|D0","type":"nominal","bandPosition":-0.204,"scale":{"domain":["1|D0","2|D21","3|D0","4|D21","5|D0","6|D21","7|D0","8|D21"],"paddingInner":0.29,"paddingOuter":0.145}},"y":{"datum":22.2,"type":"quantitative","scale":{"domain":[0,19],"nice":false,"zero":false}},"text":{"value":"c"}}},
    {"data":{"name":"lab2"},"mark":{"type":"rule","color":"#777","strokeWidth":1.2},"encoding":{"x":{"field":"f","type":"nominal","bandPosition":0.15,"scale":{"domain":["1|D0","2|D21","3|D0","4|D21","5|D0","6|D21","7|D0","8|D21"],"paddingInner":0.29,"paddingOuter":0.145}},"x2":{"field":"t","bandPosition":0.6},"y":{"datum":-3.05,"type":"quantitative","scale":{"domain":[0,19],"nice":false,"zero":false}}}},
    {"data":{"name":"lab2"},"mark":{"type":"text","fontSize":12,"fontWeight":"bold","baseline":"middle"},"encoding":{"x":{"field":"f","type":"nominal","bandPosition":1.204,"scale":{"domain":["1|D0","2|D21","3|D0","4|D21","5|D0","6|D21","7|D0","8|D21"],"paddingInner":0.29,"paddingOuter":0.145}},"y":{"datum":-4.6,"type":"quantitative","scale":{"domain":[0,19],"nice":false,"zero":false}},"text":{"field":"s"}}},
    {"data":{"name":"lab3"},"mark":{"type":"rule","strokeWidth":1.2},"encoding":{"x":{"field":"f","type":"nominal","bandPosition":0.65,"scale":{"domain":["1|D0","2|D21","3|D0","4|D21","5|D0","6|D21","7|D0","8|D21"],"paddingInner":0.29,"paddingOuter":0.145}},"x2":{"field":"t","bandPosition":0.65},"y":{"datum":-5.85,"type":"quantitative","scale":{"domain":[0,19],"nice":false,"zero":false}},"stroke":{"field":"g","type":"nominal","scale":{"domain":["C","L"],"range":["#333","#999"]},"legend":null}}},
    {"data":{"name":"lab3"},"mark":{"type":"text","fontSize":12,"fontWeight":"bold","baseline":"middle"},"encoding":{"x":{"field":"m","type":"nominal","bandPosition":1.204,"scale":{"domain":["1|D0","2|D21","3|D0","4|D21","5|D0","6|D21","7|D0","8|D21"],"paddingInner":0.29,"paddingOuter":0.145}},"y":{"datum":-7.2,"type":"quantitative","scale":{"domain":[0,19],"nice":false,"zero":false}},"text":{"field":"s"}}}
   ]}
 ],"spacing":77,"bounds":"flush","resolve":{"scale":{"stroke":"independent"},"legend":{"stroke":"independent"}}},
 {"width":10,"height":20,"data":{"values":[]},"mark":"point"},
 {"hconcat":[
   {"width":225,"height":150,"layer":[
    {"data":{"name":"dBar"},"mark":{"type":"bar","fill":"#fff","stroke":"#8a8a8a","strokeWidth":1.5},
     "encoding":{"x":{"field":"k","type":"nominal","scale":{"domain":["1|HA1","2|cH6/1","3|HA1","4|cH6/1","5|HA1","6|cH6/1","7|HA1","8|cH6/1"],"paddingInner":0.29,"paddingOuter":0.145},"axis":{"title":null,"labelExpr":"split(datum.value,'|')[1]","labelAngle":0,"labelFontSize":10,"tickSize":3,"labelPadding":2}},
      "y":{"field":"m","type":"quantitative","scale":{"domain":[0,6,8,10],"range":[150,30,13.3,0],"nice":false,"zero":false},"axis":{"title":"% INF γ + NK cells","values":[0,2,4,6,8,10],"tickCount":20,"format":"d","labelOverlap":false,"domain":false,"labelFontSize":12,"titleFontSize":12,"titleFontWeight":"normal","titlePadding":6,"tickSize":4}}}},
    {"data":{"values":[{"a":0,"b":6},{"a":8,"b":10}]},"mark":{"type":"rule","color":"#000","strokeWidth":1.5},"encoding":{"x":{"datum":"1|HA1","type":"nominal","bandPosition":-0.204,"scale":{"domain":["1|HA1","2|cH6/1","3|HA1","4|cH6/1","5|HA1","6|cH6/1","7|HA1","8|cH6/1"],"paddingInner":0.29,"paddingOuter":0.145}},"y":{"field":"a","type":"quantitative","scale":{"domain":[0,6,8,10],"range":[150,30,13.3,0],"nice":false,"zero":false}},"y2":{"field":"b"}}},
    {"data":{"name":"dBar"},"mark":{"type":"rule","color":"#8a8a8a","strokeWidth":1.3},"encoding":{"x":{"field":"k","type":"nominal","scale":{"domain":["1|HA1","2|cH6/1","3|HA1","4|cH6/1","5|HA1","6|cH6/1","7|HA1","8|cH6/1"],"paddingInner":0.29,"paddingOuter":0.145}},"y":{"field":"lo","type":"quantitative","scale":{"domain":[0,6,8,10],"range":[150,30,13.3,0],"nice":false,"zero":false}},"y2":{"field":"hi"}}},
    {"data":{"name":"dBar"},"mark":{"type":"tick","orient":"horizontal","size":12,"thickness":1.3,"color":"#8a8a8a"},"encoding":{"x":{"field":"k","type":"nominal","scale":{"domain":["1|HA1","2|cH6/1","3|HA1","4|cH6/1","5|HA1","6|cH6/1","7|HA1","8|cH6/1"],"paddingInner":0.29,"paddingOuter":0.145}},"y":{"field":"lo","type":"quantitative","scale":{"domain":[0,6,8,10],"range":[150,30,13.3,0],"nice":false,"zero":false}}}},
    {"data":{"name":"dBar"},"mark":{"type":"tick","orient":"horizontal","size":12,"thickness":1.3,"color":"#8a8a8a"},"encoding":{"x":{"field":"k","type":"nominal","scale":{"domain":["1|HA1","2|cH6/1","3|HA1","4|cH6/1","5|HA1","6|cH6/1","7|HA1","8|cH6/1"],"paddingInner":0.29,"paddingOuter":0.145}},"y":{"field":"hi","type":"quantitative","scale":{"domain":[0,6,8,10],"range":[150,30,13.3,0],"nice":false,"zero":false}}}},
    {"data":{"name":"dPts"},"transform":[{"filter":"substring(datum.k,0,1)<'5'"},{"calculate":"round(datum.v/0.3)","as":"b"},{"window":[{"op":"row_number","as":"r"},{"op":"count","as":"n"}],"groupby":["k","b"],"frame":[null,null]},{"calculate":"datum.r-(datum.n+1)/2","as":"o"}],
     "mark":{"type":"point","shape":"circle","filled":true,"color":"#000","size":24,"opacity":1},
     "encoding":{"x":{"field":"k","type":"nominal","scale":{"domain":["1|HA1","2|cH6/1","3|HA1","4|cH6/1","5|HA1","6|cH6/1","7|HA1","8|cH6/1"],"paddingInner":0.29,"paddingOuter":0.145}},"xOffset":{"field":"o","type":"quantitative","scale":{"domain":[-1.7,1.7],"nice":false,"zero":false}},"y":{"field":"v","type":"quantitative","scale":{"domain":[0,6,8,10],"range":[150,30,13.3,0],"nice":false,"zero":false}}}},
    {"data":{"name":"dPts"},"transform":[{"filter":"substring(datum.k,0,1)>='5'"},{"calculate":"round(datum.v/0.3)","as":"b"},{"window":[{"op":"row_number","as":"r"},{"op":"count","as":"n"}],"groupby":["k","b"],"frame":[null,null]},{"calculate":"datum.r-(datum.n+1)/2","as":"o"}],
     "mark":{"type":"point","shape":"triangle-up","filled":true,"color":"#8c8c8c","size":32,"opacity":1},
     "encoding":{"x":{"field":"k","type":"nominal","scale":{"domain":["1|HA1","2|cH6/1","3|HA1","4|cH6/1","5|HA1","6|cH6/1","7|HA1","8|cH6/1"],"paddingInner":0.29,"paddingOuter":0.145}},"xOffset":{"field":"o","type":"quantitative","scale":{"domain":[-1.7,1.7],"nice":false,"zero":false}},"y":{"field":"v","type":"quantitative","scale":{"domain":[0,6,8,10],"range":[150,30,13.3,0],"nice":false,"zero":false}}}},
    {"data":{"values":[{}]},"mark":{"type":"rule","strokeDash":[5,3],"color":"#000","strokeWidth":1.8},"encoding":{"x":{"datum":"5|HA1","type":"nominal","bandPosition":-0.204,"scale":{"domain":["1|HA1","2|cH6/1","3|HA1","4|cH6/1","5|HA1","6|cH6/1","7|HA1","8|cH6/1"],"paddingInner":0.29,"paddingOuter":0.145}},"y":{"datum":0,"type":"quantitative","scale":{"domain":[0,6,8,10],"range":[150,30,13.3,0],"nice":false,"zero":false}},"y2":{"datum":10}}},
    {"data":{"name":"dBr"},"mark":{"type":"rule","color":"#555","strokeWidth":1.2},"encoding":{"x":{"field":"f","type":"nominal","scale":{"domain":["1|HA1","2|cH6/1","3|HA1","4|cH6/1","5|HA1","6|cH6/1","7|HA1","8|cH6/1"],"paddingInner":0.29,"paddingOuter":0.145}},"x2":{"field":"t"},"y":{"field":"y","type":"quantitative","scale":{"domain":[0,6,8,10],"range":[150,30,13.3,0],"nice":false,"zero":false}}}},
    {"data":{"name":"dBr"},"mark":{"type":"tick","orient":"vertical","size":7,"thickness":1.2,"color":"#555"},"encoding":{"x":{"field":"f","type":"nominal","scale":{"domain":["1|HA1","2|cH6/1","3|HA1","4|cH6/1","5|HA1","6|cH6/1","7|HA1","8|cH6/1"],"paddingInner":0.29,"paddingOuter":0.145}},"y":{"field":"y","type":"quantitative","scale":{"domain":[0,6,8,10],"range":[150,30,13.3,0],"nice":false,"zero":false}}}},
    {"data":{"name":"dBr"},"mark":{"type":"tick","orient":"vertical","size":7,"thickness":1.2,"color":"#555"},"encoding":{"x":{"field":"t","type":"nominal","scale":{"domain":["1|HA1","2|cH6/1","3|HA1","4|cH6/1","5|HA1","6|cH6/1","7|HA1","8|cH6/1"],"paddingInner":0.29,"paddingOuter":0.145}},"y":{"field":"y","type":"quantitative","scale":{"domain":[0,6,8,10],"range":[150,30,13.3,0],"nice":false,"zero":false}}}},
    {"data":{"name":"dBr"},"mark":{"type":"text","fontSize":13,"baseline":"alphabetic","dy":3},"encoding":{"x":{"field":"f","type":"nominal","bandPosition":1.204,"scale":{"domain":["1|HA1","2|cH6/1","3|HA1","4|cH6/1","5|HA1","6|cH6/1","7|HA1","8|cH6/1"],"paddingInner":0.29,"paddingOuter":0.145}},"y":{"field":"y","type":"quantitative","scale":{"domain":[0,6,8,10],"range":[150,30,13.3,0],"nice":false,"zero":false}},"text":{"field":"s"}}},
    {"data":{"values":[{}]},"mark":{"type":"text","fontSize":20,"fontWeight":"bold","align":"left","baseline":"middle","dx":-49},"encoding":{"x":{"datum":"1|HA1","type":"nominal","bandPosition":-0.204,"scale":{"domain":["1|HA1","2|cH6/1","3|HA1","4|cH6/1","5|HA1","6|cH6/1","7|HA1","8|cH6/1"],"paddingInner":0.29,"paddingOuter":0.145}},"y":{"datum":10.7,"type":"quantitative","scale":{"domain":[0,6,8,10],"range":[150,30,13.3,0],"nice":false,"zero":false}},"text":{"value":"d"}}},
    {"data":{"name":"labDE"},"mark":{"type":"rule","strokeWidth":1.2},"encoding":{"x":{"field":"f","type":"nominal","bandPosition":0,"scale":{"domain":["1|HA1","2|cH6/1","3|HA1","4|cH6/1","5|HA1","6|cH6/1","7|HA1","8|cH6/1"],"paddingInner":0.29,"paddingOuter":0.145}},"x2":{"field":"t","bandPosition":1},"y":{"datum":-0.8,"type":"quantitative","scale":{"domain":[0,6,8,10],"range":[150,30,13.3,0],"nice":false,"zero":false}},"stroke":{"field":"g","type":"nominal","scale":{"domain":["C","L"],"range":["#222","#999"]},"legend":null}}},
    {"data":{"name":"labDE"},"mark":{"type":"text","fontSize":13,"fontWeight":"bold","baseline":"middle"},"encoding":{"x":{"field":"f","type":"nominal","bandPosition":1.204,"scale":{"domain":["1|HA1","2|cH6/1","3|HA1","4|cH6/1","5|HA1","6|cH6/1","7|HA1","8|cH6/1"],"paddingInner":0.29,"paddingOuter":0.145}},"y":{"datum":-1.4,"type":"quantitative","scale":{"domain":[0,6,8,10],"range":[150,30,13.3,0],"nice":false,"zero":false}},"text":{"field":"s"}}}
   ]},
   {"width":223,"height":149,"layer":[
    {"data":{"name":"eBar"},"mark":{"type":"bar","fill":"#fff","stroke":"#8a8a8a","strokeWidth":1.5},
     "encoding":{"x":{"field":"k","type":"nominal","scale":{"domain":["1|HA1","2|cH6/1","3|HA1","4|cH6/1","5|HA1","6|cH6/1","7|HA1","8|cH6/1"],"paddingInner":0.29,"paddingOuter":0.145},"axis":{"title":null,"labelExpr":"split(datum.value,'|')[1]","labelAngle":0,"labelFontSize":10,"tickSize":3,"labelPadding":2}},
      "y":{"field":"m","type":"quantitative","scale":{"domain":[0,16],"nice":false,"zero":false},"axis":{"title":"% CD107a + NK cells","values":[0,2,4,6,8,10,12,14,16],"tickCount":20,"format":"d","labelOverlap":false,"labelFontSize":12,"titleFontSize":12,"titleFontWeight":"normal","titlePadding":6,"tickSize":4}}}},
    {"data":{"name":"eBar"},"mark":{"type":"rule","color":"#8a8a8a","strokeWidth":1.3},"encoding":{"x":{"field":"k","type":"nominal","scale":{"domain":["1|HA1","2|cH6/1","3|HA1","4|cH6/1","5|HA1","6|cH6/1","7|HA1","8|cH6/1"],"paddingInner":0.29,"paddingOuter":0.145}},"y":{"field":"lo","type":"quantitative","scale":{"domain":[0,16],"nice":false,"zero":false}},"y2":{"field":"hi"}}},
    {"data":{"name":"eBar"},"mark":{"type":"tick","orient":"horizontal","size":12,"thickness":1.3,"color":"#8a8a8a"},"encoding":{"x":{"field":"k","type":"nominal","scale":{"domain":["1|HA1","2|cH6/1","3|HA1","4|cH6/1","5|HA1","6|cH6/1","7|HA1","8|cH6/1"],"paddingInner":0.29,"paddingOuter":0.145}},"y":{"field":"lo","type":"quantitative","scale":{"domain":[0,16],"nice":false,"zero":false}}}},
    {"data":{"name":"eBar"},"mark":{"type":"tick","orient":"horizontal","size":12,"thickness":1.3,"color":"#8a8a8a"},"encoding":{"x":{"field":"k","type":"nominal","scale":{"domain":["1|HA1","2|cH6/1","3|HA1","4|cH6/1","5|HA1","6|cH6/1","7|HA1","8|cH6/1"],"paddingInner":0.29,"paddingOuter":0.145}},"y":{"field":"hi","type":"quantitative","scale":{"domain":[0,16],"nice":false,"zero":false}}}},
    {"data":{"name":"ePts"},"transform":[{"calculate":"round(datum.v/0.6)","as":"b"},{"window":[{"op":"row_number","as":"r"},{"op":"count","as":"n"}],"groupby":["k","b"],"frame":[null,null]},{"calculate":"datum.r-(datum.n+1)/2","as":"o"},{"calculate":"substring(datum.k,0,1)<'5'?'CONTROLS':'LRs'","as":"g"}],
     "mark":{"type":"point","filled":true,"size":28,"opacity":1},
     "encoding":{"x":{"field":"k","type":"nominal","scale":{"domain":["1|HA1","2|cH6/1","3|HA1","4|cH6/1","5|HA1","6|cH6/1","7|HA1","8|cH6/1"],"paddingInner":0.29,"paddingOuter":0.145}},"xOffset":{"field":"o","type":"quantitative","scale":{"domain":[-1.7,1.7],"nice":false,"zero":false}},"y":{"field":"v","type":"quantitative","scale":{"domain":[0,16],"nice":false,"zero":false}},
      "shape":{"field":"g","type":"nominal","scale":{"domain":["CONTROLS","LRs"],"range":["circle","triangle-up"]},"legend":{"title":null,"orient":"right","labelFontSize":12,"labelFontWeight":"bold","labelFont":"Liberation Sans","symbolSize":40,"rowPadding":7,"offset":4,"padding":4,"labelOffset":3}},
      "color":{"field":"g","type":"nominal","scale":{"domain":["CONTROLS","LRs"],"range":["#000","#8c8c8c"]},"legend":{"title":null,"orient":"right","labelFontSize":12,"labelFontWeight":"bold","labelFont":"Liberation Sans","symbolSize":40,"rowPadding":7,"offset":4,"padding":4,"labelOffset":3}}}},
    {"data":{"values":[{}]},"mark":{"type":"rule","strokeDash":[5,3],"color":"#000","strokeWidth":1.8},"encoding":{"x":{"datum":"5|HA1","type":"nominal","bandPosition":-0.204,"scale":{"domain":["1|HA1","2|cH6/1","3|HA1","4|cH6/1","5|HA1","6|cH6/1","7|HA1","8|cH6/1"],"paddingInner":0.29,"paddingOuter":0.145}},"y":{"datum":0,"type":"quantitative","scale":{"domain":[0,16],"nice":false,"zero":false}},"y2":{"datum":16}}},
    {"data":{"name":"eBr"},"mark":{"type":"rule","color":"#555","strokeWidth":1.2},"encoding":{"x":{"field":"f","type":"nominal","scale":{"domain":["1|HA1","2|cH6/1","3|HA1","4|cH6/1","5|HA1","6|cH6/1","7|HA1","8|cH6/1"],"paddingInner":0.29,"paddingOuter":0.145}},"x2":{"field":"t"},"y":{"field":"y","type":"quantitative","scale":{"domain":[0,16],"nice":false,"zero":false}}}},
    {"data":{"name":"eBr"},"mark":{"type":"tick","orient":"vertical","size":7,"thickness":1.2,"color":"#555"},"encoding":{"x":{"field":"f","type":"nominal","scale":{"domain":["1|HA1","2|cH6/1","3|HA1","4|cH6/1","5|HA1","6|cH6/1","7|HA1","8|cH6/1"],"paddingInner":0.29,"paddingOuter":0.145}},"y":{"field":"y","type":"quantitative","scale":{"domain":[0,16],"nice":false,"zero":false}}}},
    {"data":{"name":"eBr"},"mark":{"type":"tick","orient":"vertical","size":7,"thickness":1.2,"color":"#555"},"encoding":{"x":{"field":"t","type":"nominal","scale":{"domain":["1|HA1","2|cH6/1","3|HA1","4|cH6/1","5|HA1","6|cH6/1","7|HA1","8|cH6/1"],"paddingInner":0.29,"paddingOuter":0.145}},"y":{"field":"y","type":"quantitative","scale":{"domain":[0,16],"nice":false,"zero":false}}}},
    {"data":{"name":"eBr"},"mark":{"type":"text","fontSize":13,"baseline":"alphabetic","dy":3},"encoding":{"x":{"field":"f","type":"nominal","bandPosition":1.204,"scale":{"domain":["1|HA1","2|cH6/1","3|HA1","4|cH6/1","5|HA1","6|cH6/1","7|HA1","8|cH6/1"],"paddingInner":0.29,"paddingOuter":0.145}},"y":{"field":"y","type":"quantitative","scale":{"domain":[0,16],"nice":false,"zero":false}},"text":{"field":"s"}}},
    {"data":{"name":"eBr2"},"mark":{"type":"rule","color":"#555","strokeWidth":1.2},"encoding":{"x":{"field":"f","type":"nominal","scale":{"domain":["1|HA1","2|cH6/1","3|HA1","4|cH6/1","5|HA1","6|cH6/1","7|HA1","8|cH6/1"],"paddingInner":0.29,"paddingOuter":0.145}},"x2":{"field":"t"},"y":{"field":"y","type":"quantitative","scale":{"domain":[0,16],"nice":false,"zero":false}}}},
    {"data":{"name":"eBr2"},"mark":{"type":"tick","orient":"vertical","size":7,"thickness":1.2,"color":"#555"},"encoding":{"x":{"field":"f","type":"nominal","scale":{"domain":["1|HA1","2|cH6/1","3|HA1","4|cH6/1","5|HA1","6|cH6/1","7|HA1","8|cH6/1"],"paddingInner":0.29,"paddingOuter":0.145}},"y":{"field":"y","type":"quantitative","scale":{"domain":[0,16],"nice":false,"zero":false}}}},
    {"data":{"name":"eBr2"},"mark":{"type":"tick","orient":"vertical","size":7,"thickness":1.2,"color":"#555"},"encoding":{"x":{"field":"t","type":"nominal","scale":{"domain":["1|HA1","2|cH6/1","3|HA1","4|cH6/1","5|HA1","6|cH6/1","7|HA1","8|cH6/1"],"paddingInner":0.29,"paddingOuter":0.145}},"y":{"field":"y","type":"quantitative","scale":{"domain":[0,16],"nice":false,"zero":false}}}},
    {"data":{"name":"eBr2"},"mark":{"type":"text","fontSize":13,"baseline":"alphabetic","dy":3},"encoding":{"x":{"field":"m","type":"nominal","bandPosition":0.5,"scale":{"domain":["1|HA1","2|cH6/1","3|HA1","4|cH6/1","5|HA1","6|cH6/1","7|HA1","8|cH6/1"],"paddingInner":0.29,"paddingOuter":0.145}},"y":{"field":"y","type":"quantitative","scale":{"domain":[0,16],"nice":false,"zero":false}},"text":{"field":"s"}}},
    {"data":{"values":[{}]},"mark":{"type":"text","fontSize":20,"fontWeight":"bold","align":"left","baseline":"middle","dx":-45},"encoding":{"x":{"datum":"1|HA1","type":"nominal","bandPosition":-0.204,"scale":{"domain":["1|HA1","2|cH6/1","3|HA1","4|cH6/1","5|HA1","6|cH6/1","7|HA1","8|cH6/1"],"paddingInner":0.29,"paddingOuter":0.145}},"y":{"datum":16.3,"type":"quantitative","scale":{"domain":[0,16],"nice":false,"zero":false}},"text":{"value":"e"}}},
    {"data":{"name":"labDE"},"mark":{"type":"rule","strokeWidth":1.2},"encoding":{"x":{"field":"f","type":"nominal","bandPosition":0,"scale":{"domain":["1|HA1","2|cH6/1","3|HA1","4|cH6/1","5|HA1","6|cH6/1","7|HA1","8|cH6/1"],"paddingInner":0.29,"paddingOuter":0.145}},"x2":{"field":"t","bandPosition":1},"y":{"datum":-1.83,"type":"quantitative","scale":{"domain":[0,16],"nice":false,"zero":false}},"stroke":{"field":"g","type":"nominal","scale":{"domain":["C","L"],"range":["#222","#999"]},"legend":null}}},
    {"data":{"name":"labDE"},"mark":{"type":"text","fontSize":13,"fontWeight":"bold","baseline":"middle"},"encoding":{"x":{"field":"f","type":"nominal","bandPosition":1.204,"scale":{"domain":["1|HA1","2|cH6/1","3|HA1","4|cH6/1","5|HA1","6|cH6/1","7|HA1","8|cH6/1"],"paddingInner":0.29,"paddingOuter":0.145}},"y":{"datum":-3.0,"type":"quantitative","scale":{"domain":[0,16],"nice":false,"zero":false}},"text":{"field":"s"}}}
   ]}
 ],"spacing":75,"bounds":"flush","resolve":{"scale":{"color":"independent","shape":"independent","stroke":"independent"},"legend":{"color":"independent","shape":"independent","stroke":"independent"}}}
]
}
